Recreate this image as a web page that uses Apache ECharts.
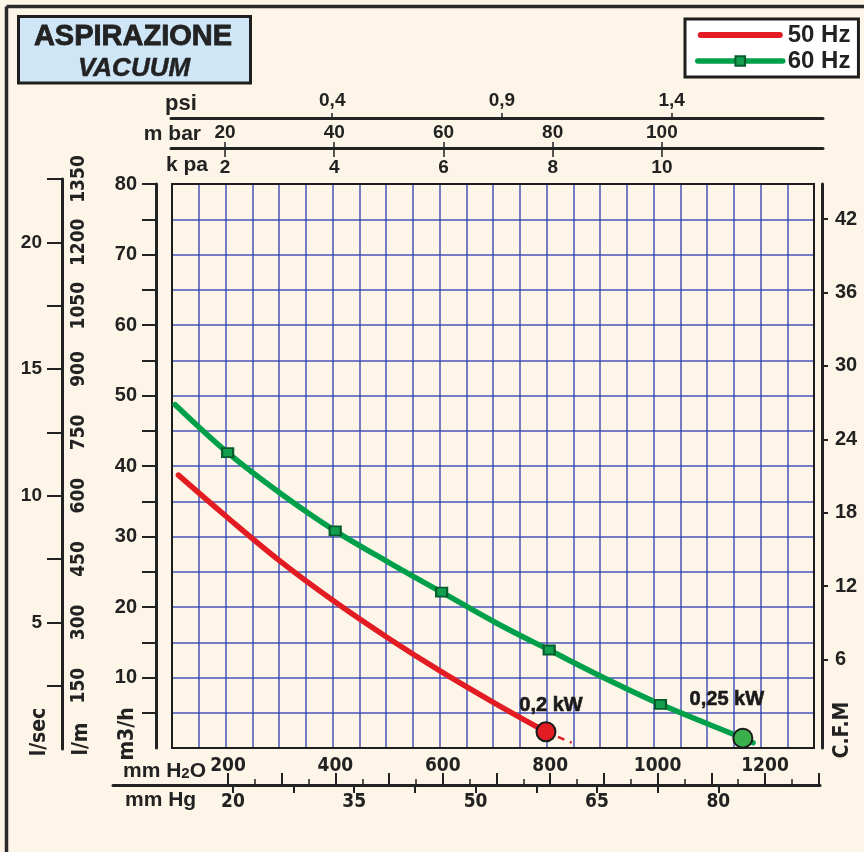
<!DOCTYPE html>
<html><head><meta charset="utf-8">
<script src="https://cdn.jsdelivr.net/npm/echarts@6/dist/echarts.min.js"></script>
<style>html,body{margin:0;padding:0;background:#fdf5e7;}#c{width:864px;height:852px;}</style>
</head><body><div id="c"></div>
<script>
// ---- data ----
const H2O_50 = [112, 202, 302, 405, 508, 604, 707, 799];
const Q_50   = [38.7, 32.8, 26.5, 20.7, 15.4, 10.8, 6.2, 2.3];
const H2O_50_EXT = [799, 847];
const Q_50_EXT   = [2.3, 0.75];
const H2O_60 = [106, 204, 305, 405, 508, 604, 707, 805, 909, 1013, 1167, 1186];
const Q_60   = [48.7, 41.9, 36.0, 30.8, 26.2, 22.1, 17.7, 13.9, 9.9, 6.2, 1.4, 0.75];
const MARK_60 = [false, true, false, true, false, true, false, true, false, true, false, false];
const POWER_H2O = [799, 1167];
const POWER_Q   = [2.3, 1.4];
const POWER_LABELS = ['0,2 kW', '0,25 kW'];
const SERIES_NAMES = ['50 Hz', '60 Hz'];

const M3H_TICKS  = [5,10,15,20,25,30,35,40,45,50,55,60,65,70,75,80];
const M3H_LABELS = [10,20,30,40,50,60,70,80];
const LSEC_TICKS  = [2.5,5,7.5,10,12.5,15,17.5,20,22.5];
const LSEC_LABELS = [5,10,15,20];
const LMIN_LABELS = [150,300,450,600,750,900,1050,1200,1350];
const CFM_LABELS  = [6,12,18,24,30,36,42];
const PSI_LABELS  = [0.4, 0.9, 1.4];
const MBAR_LABELS = [20,40,60,80,100];
const KPA_LABELS  = [2,4,6,8,10];
const H2O_MAJOR_TICKS = [200,300,400,500,600,700,800,900,1000,1100,1200,1300];
const H2O_MINOR_TICKS = [250,350,450,550,650,750,850,950,1050,1150,1250];
const H2O_LABELS = [200,400,600,800,1000,1200];
const HG_TICKS  = [20,27.5,35,42.5,50,57.5,65,72.5,80];
const HG_LABELS = [20,35,50,65,80];

// ---- styling ----
const RED = '#e31b23', GREEN = '#00a04b', INK = '#222222', GRIDC = '#3344b4';
const F = 'Liberation Sans, Arial, sans-serif';
const FN = '"Liberation Sans Narrow", "DejaVu Sans Condensed", sans-serif';
const plain = v => String(v).replace('.', ',');

function lab(values, extra) {
  return Object.assign({show: true, customValues: values, color: INK, fontWeight: 'bold',
    fontSize: 19, fontFamily: F, formatter: plain}, extra || {});
}
function tick(values, extra) {
  return Object.assign({show: true, customValues: values, length: 6,
    lineStyle: {color: INK, width: 2}}, extra || {});
}
const LINE = {show: true, onZero: false, lineStyle: {color: INK, width: 3}};
const NOLINE = {show: false, onZero: false};
const hidden = g => ({type: 'value', gridIndex: g, show: false, axisLine: {onZero: false}});
const SPLIT = {show: true, showMinLine: false, showMaxLine: false, lineStyle: {color: GRIDC, width: 1.5, opacity: 0.9}};

const option = {
  animation: false,
  backgroundColor: '#fdf5e7',
  grid: [
    {left: 172, right: 50, top: 184, bottom: 104, show: true, borderColor: '#1e1e1e', borderWidth: 2, backgroundColor: 'transparent', z: 3}, // 0 plot
    {left: 171, right: 41, top: 118, height: 20},  // 1 psi
    {left: 171, right: 41, top: 148, height: 20},  // 2 mbar / kPa
    {left: 62, width: 1, top: 179, bottom: 103},   // 3 l/sec, l/m
    {left: 113, right: 44, top: 785, height: 20}   // 4 mm H2O / mm Hg
  ],
  xAxis: [
    {type: 'value', gridIndex: 0, min: 100, max: 1300, interval: 50,
      axisLine: NOLINE, axisTick: {show: false}, axisLabel: {show: false}, splitLine: SPLIT},
    {type: 'value', gridIndex: 1, position: 'top', min: -0.0751, max: 1.846,
      axisLine: LINE, splitLine: {show: false},
      axisTick: tick(PSI_LABELS, {length: 5, lineStyle: {color: INK, width: 1.5}}),
      axisLabel: lab(PSI_LABELS, {margin: 8})},
    {type: 'value', gridIndex: 2, position: 'top', min: 10.11, max: 129.5,
      axisLine: LINE, splitLine: {show: false},
      axisTick: tick(MBAR_LABELS, {length: 6, lineStyle: {color: INK, width: 1.5}}),
      axisLabel: lab(MBAR_LABELS, {margin: 6})},
    {type: 'value', gridIndex: 2, position: 'top', min: 1.011, max: 12.95,
      axisLine: NOLINE, splitLine: {show: false},
      axisTick: tick(KPA_LABELS, {length: 9, inside: true, lineStyle: {color: INK, width: 1.5}}),
      axisLabel: lab(KPA_LABELS, {margin: 10, inside: true})},
    {type: 'value', gridIndex: 4, position: 'top', min: -14.15, max: 1302.4,
      axisLine: LINE, splitLine: {show: false},
      axisTick: tick(H2O_MAJOR_TICKS, {length: 12}),
      axisLabel: lab(H2O_LABELS, {margin: 9, fontFamily: FN, fontSize: 19})},
    {type: 'value', gridIndex: 4, position: 'top', min: -14.15, max: 1302.4,
      axisLine: NOLINE, splitLine: {show: false},
      axisTick: tick(H2O_MINOR_TICKS, {length: 6, lineStyle: {color: INK, width: 1.5}}),
      axisLabel: {show: false}},
    {type: 'value', gridIndex: 4, position: 'top', min: 5.18, max: 92.57,
      axisLine: NOLINE, splitLine: {show: false},
      axisTick: tick(HG_TICKS, {length: 8, inside: true}),
      axisLabel: lab(HG_LABELS, {margin: 8, inside: true, fontFamily: FN, fontSize: 19})},
    hidden(3)
  ],
  yAxis: [
    {type: 'value', gridIndex: 0, min: 0, max: 80, interval: 5,
      axisLine: NOLINE, axisTick: {show: false}, axisLabel: {show: false}, splitLine: SPLIT},
    {type: 'value', gridIndex: 0, position: 'left', offset: 16, min: 0, max: 80,
      axisLine: LINE, splitLine: {show: false},
      axisTick: tick(M3H_TICKS, {length: 14}),
      axisLabel: lab(M3H_LABELS, {margin: 19, fontSize: 20})},
    {type: 'value', gridIndex: 0, position: 'right', offset: 8, min: -1.25, max: 44.88,
      axisLine: LINE, splitLine: {show: false},
      axisTick: tick(CFM_LABELS, {length: 6}),
      axisLabel: lab(CFM_LABELS, {margin: 13, fontSize: 20})},
    {type: 'value', gridIndex: 3, position: 'left', min: 0, max: 22.5,
      axisLine: LINE, splitLine: {show: false},
      axisTick: tick(LSEC_TICKS, {length: 15}),
      axisLabel: lab(LSEC_LABELS, {margin: 20})},
    {type: 'value', gridIndex: 3, position: 'left', min: 0, max: 1350,
      axisLine: NOLINE, axisTick: {show: false}, splitLine: {show: false},
      axisLabel: lab(LMIN_LABELS, {inside: true, rotate: 90, margin: 8, fontFamily: FN, fontSize: 19})},
    hidden(1), hidden(2), hidden(4)
  ],
  legend: {
    data: [
      {name: SERIES_NAMES[0], icon: 'path://M3,0 L82,0 A3,3 0 0 1 82,6 L3,6 A3,3 0 0 1 3,0 Z'},
      {name: SERIES_NAMES[1]}
    ],
    orient: 'vertical', left: 685, top: 19,
    itemWidth: 85, itemHeight: 12, itemGap: 2, padding: [4, 8, 4, 10],
    borderColor: '#1e1e1e', borderWidth: 3, backgroundColor: '#ffffff',
    lineStyle: {width: 5.5},
    textStyle: {fontSize: 24, fontWeight: 'bold', color: INK, fontFamily: F}
  },
  series: [
    {type: 'line', name: SERIES_NAMES[0], xAxisIndex: 0, yAxisIndex: 0,
      data: H2O_50.map((x, i) => [x, Q_50[i]]), smooth: 0.35, symbol: 'none',
      lineStyle: {color: RED, width: 5.5, cap: 'round'}, itemStyle: {color: RED}, z: 3},
    {type: 'line', name: 'ext50', xAxisIndex: 0, yAxisIndex: 0,
      data: H2O_50_EXT.map((x, i) => [x, Q_50_EXT[i]]), symbol: 'none',
      lineStyle: {color: RED, width: 2.5, type: [7, 6]}, z: 2},
    {type: 'line', name: SERIES_NAMES[1], xAxisIndex: 0, yAxisIndex: 0,
      data: H2O_60.map((x, i) => ({value: [x, Q_60[i]], symbol: MARK_60[i] ? 'rect' : 'none'})),
      smooth: 0.35, symbol: 'rect', symbolSize: [11, 9], showSymbol: true, showAllSymbol: true,
      lineStyle: {color: GREEN, width: 5.5, cap: 'round'},
      itemStyle: {color: '#13a04e', borderColor: '#075c2c', borderWidth: 2}, z: 3},
    {type: 'scatter', name: 'power', xAxisIndex: 0, yAxisIndex: 0, symbol: 'circle', symbolSize: 19, z: 5,
      label: {show: true, position: 'top', formatter: p => '{a|' + POWER_LABELS[p.dataIndex] + '}',
        rich: {a: {color: '#1a1a1a', fontWeight: 'bold', fontSize: 20, fontFamily: F,
          textBorderColor: '#1a1a1a', textBorderWidth: 0.6}}},
      emphasis: {disabled: true},
      data: POWER_H2O.map((x, i) => ({
        value: [x, POWER_Q[i]],
        itemStyle: {color: i === 0 ? RED : '#3aaf4a', borderColor: '#1a1a1a', borderWidth: 2, opacity: 1},
        label: {offset: i === 0 ? [5, -1] : [-16, -13]}
      }))}
  ],
  graphic: [
    {type: 'line', shape: {x1: 6.5, y1: 6.5, x2: 864, y2: 6.5}, style: {stroke: '#2a2a2a', lineWidth: 3.5}},
    {type: 'line', shape: {x1: 6.5, y1: 6.5, x2: 6.5, y2: 852}, style: {stroke: '#2a2a2a', lineWidth: 3.5}},
    {type: 'rect', shape: {x: 18.5, y: 16.5, width: 232, height: 66.5},
      style: {fill: '#cfe6f7', stroke: '#1e1e1e', lineWidth: 3}},
    {type: 'text', x: 133, y: 37, style: {text: 'ASPIRAZIONE', fill: INK, textAlign: 'center', textVerticalAlign: 'middle',
      font: 'bold 29px ' + F, stroke: INK, lineWidth: 0.8}},
    {type: 'text', x: 134, y: 69, style: {text: 'VACUUM', fill: INK, textAlign: 'center', textVerticalAlign: 'middle',
      font: 'italic bold 26px ' + F, stroke: INK, lineWidth: 0.5}},
    {type: 'text', x: 165, y: 104, style: {text: 'psi', fill: INK, textVerticalAlign: 'middle', font: 'bold 22px ' + F}},
    {type: 'text', x: 201, y: 134, style: {text: 'm bar', fill: INK, textAlign: 'right', textVerticalAlign: 'middle', font: 'bold 21px ' + F}},
    {type: 'text', x: 166, y: 165, style: {text: 'k pa', fill: INK, textVerticalAlign: 'middle', font: 'bold 21px ' + F}},
    {type: 'text', x: 123, y: 771, style: {text: '{a|mm H}{b|2}{a|O}', fill: INK, textVerticalAlign: 'middle',
      rich: {a: {font: 'bold 21px ' + F, fill: INK}, b: {font: 'bold 15px ' + F, fill: INK, padding: [5, 0, 0, 0]}}}},
    {type: 'text', x: 125, y: 800, style: {text: 'mm Hg', fill: INK, textVerticalAlign: 'middle', font: 'bold 21px ' + F}},
    {type: 'text', x: 40, y: 732, rotation: Math.PI / 2, style: {text: 'l/sec', fill: INK, textAlign: 'center', textVerticalAlign: 'middle', font: 'bold 21px ' + FN}},
    {type: 'text', x: 82, y: 739, rotation: Math.PI / 2, style: {text: 'l/m', fill: INK, textAlign: 'center', textVerticalAlign: 'middle', font: 'bold 21px ' + FN}},
    {type: 'text', x: 128, y: 734, rotation: Math.PI / 2, style: {text: 'm3/h', fill: INK, textAlign: 'center', textVerticalAlign: 'middle', font: 'bold 21px ' + FN}},
    {type: 'text', x: 843, y: 730, rotation: Math.PI / 2, style: {text: 'C.F.M', fill: INK, textAlign: 'center', textVerticalAlign: 'middle', font: 'bold 21px ' + FN}}
  ]
};
const chart = echarts.init(document.getElementById('c'));
chart.setOption(option);
</script></body></html>
